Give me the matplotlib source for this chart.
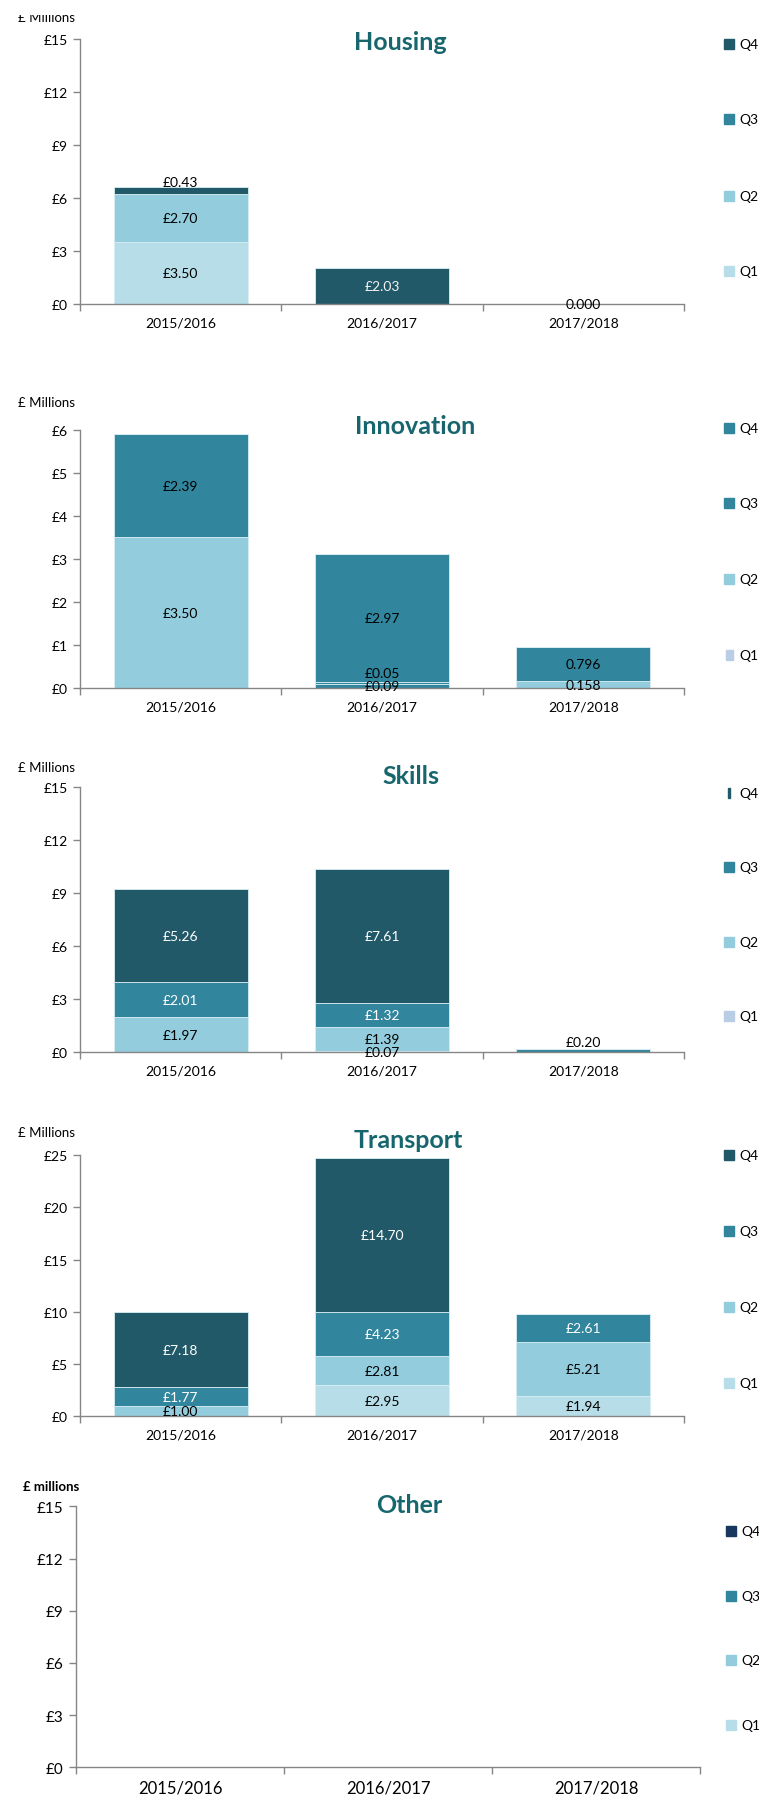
import matplotlib
matplotlib.use("Agg")
import matplotlib.pyplot as plt
from matplotlib.patches import Rectangle
from matplotlib.transforms import Bbox

# ---------------------------------------------------------------- data
years = ["2015/2016", "2016/2017", "2017/2018"]
quarters = ["Q1", "Q2", "Q3", "Q4"]

housing_q1 = [3.50, 0.0, 0.0]
housing_q2 = [2.70, 0.0, 0.0]
housing_q3 = [0.0, 0.0, 0.0]
housing_q4 = [0.43, 2.03, 0.0]

innovation_q1 = [0.0, 0.09, 0.0]
innovation_q2 = [3.50, 0.05, 0.158]
innovation_q3 = [2.39, 2.97, 0.796]
innovation_q4 = [0.0, 0.0, 0.0]

skills_q1 = [0.0, 0.07, 0.0]
skills_q2 = [1.97, 1.39, 0.0]
skills_q3 = [2.01, 1.32, 0.20]
skills_q4 = [5.26, 7.61, 0.0]

transport_q1 = [0.0, 2.95, 1.94]
transport_q2 = [1.00, 2.81, 5.21]
transport_q3 = [1.77, 4.23, 2.61]
transport_q4 = [7.18, 14.70, 0.0]

other_q1 = [0.0, 0.0, 0.0]
other_q2 = [0.0, 0.0, 0.0]
other_q3 = [0.0, 0.0, 0.0]
other_q4 = [0.0, 0.0, 0.0]

# ---------------------------------------------------------------- style
W, H = 759, 1799
FONT = "Lato"
plt.rcParams["font.family"] = [FONT, "DejaVu Sans"]

DARK = "#215968"
TEAL = "#31859c"
LIGHT = "#93cddd"
PALE = "#b7dee8"
LAV = "#b9cde5"
NAVY = "#17375e"
AXIS_GREY = "#868686"
TITLE_COL = "#17666e"


def fx(px):
    return px / W


def fy(py):
    return 1 - py / H


panels = [
    dict(title="Housing", series=[housing_q1, housing_q2, housing_q3, housing_q4],
         colors=[PALE, LIGHT, TEAL, DARK], legend_colors=[PALE, LIGHT, TEAL, DARK],
         label_colors=["black", "black", "white", "#f2f2f2"],
         fmts=["£{:.2f}", "£{:.2f}", "{:.3f}"], zero_label=[False, False, True],
         nudges={(3, 0): 9}, seg_colors={},
         box=(80, 684, 40, 305), ymax=15, step=3,
         title_xy=(400, 42), unit=("£ Millions", 18, 18, "normal"), unit_clip=16,
         legend_y=[272, 197, 120, 45], legend_x=724, legend_w=[10, 10, 10, 10],
         xfs=10, yfs=10),
    dict(title="Innovation", series=[innovation_q1, innovation_q2, innovation_q3, innovation_q4],
         colors=[TEAL, LIGHT, TEAL, TEAL], legend_colors=[LAV, LIGHT, TEAL, TEAL],
         label_colors=["black", "black", "black", "black"],
         fmts=["£{:.2f}", "£{:.2f}", "{:.3f}"], zero_label=[False, False, False],
         nudges={(1, 1): 10}, seg_colors={(1, 1): TEAL},
         box=(80, 684, 430.7, 689.3), ymax=6, step=1,
         title_xy=(415, 427), unit=("£ Millions", 18, 403, "normal"), unit_clip=None,
         legend_y=[656, 580, 504, 429], legend_x=724, legend_w=[7, 10, 10, 10],
         xfs=10, yfs=10),
    dict(title="Skills", series=[skills_q1, skills_q2, skills_q3, skills_q4],
         colors=[LAV, LIGHT, TEAL, DARK], legend_colors=[LAV, LIGHT, TEAL, DARK],
         label_colors=["black", "black", "white", "white"],
         fmts=["£{:.2f}", "£{:.2f}", "£{:.2f}"], zero_label=[False, False, False],
         nudges={(2, 2): 9}, seg_colors={},
         box=(80, 684, 788.3, 1053.3), ymax=15, step=3,
         title_xy=(411, 777), unit=("£ Millions", 18, 768, "normal"), unit_clip=None,
         legend_y=[1017, 943, 868, 794], legend_x=724, legend_w=[10, 10, 10, 2],
         xfs=10, yfs=10),
    dict(title="Transport", series=[transport_q1, transport_q2, transport_q3, transport_q4],
         colors=[PALE, LIGHT, TEAL, DARK], legend_colors=[PALE, LIGHT, TEAL, DARK],
         label_colors=["black", "black", "white", "white"],
         fmts=["£{:.2f}", "£{:.2f}", "£{:.2f}"], zero_label=[False, False, False],
         nudges={}, seg_colors={},
         box=(80, 684, 1156, 1417.3), ymax=25, step=5,
         title_xy=(408, 1141), unit=("£ Millions", 18, 1133, "normal"), unit_clip=None,
         legend_y=[1384, 1308, 1232, 1156], legend_x=724, legend_w=[10, 10, 10, 10],
         xfs=10, yfs=10),
    dict(title="Other", series=[other_q1, other_q2, other_q3, other_q4],
         colors=[PALE, LIGHT, TEAL, NAVY], legend_colors=[PALE, LIGHT, TEAL, NAVY],
         label_colors=["black", "black", "white", "white"],
         fmts=["£{:.2f}", "£{:.2f}", "£{:.2f}"], zero_label=[False, False, False],
         nudges={}, seg_colors={},
         box=(76, 700, 1507.3, 1768.3), ymax=15, step=3,
         title_xy=(409, 1506), unit=("£ millions", 23, 1487, "bold"), unit_clip=None,
         legend_y=[1726, 1661, 1597, 1532], legend_x=726, legend_w=[10, 10, 10, 10],
         xfs=12, yfs=11),
]

fig = plt.figure(figsize=(W / 100, H / 100), dpi=100)
fig.patch.set_facecolor("white")

x = list(range(len(years)))
bar_w = 0.667

for p in panels:
    left, right, top, bottom = p["box"]
    ax = fig.add_axes([fx(left), fy(bottom), (right - left) / W, (bottom - top) / H])

    base = [0.0] * len(years)
    for si, vals in enumerate(p["series"]):
        cols = [p["seg_colors"].get((si, bi), p["colors"][si]) for bi in range(len(years))]
        ax.bar(x, vals, bar_w, bottom=base, color=cols, edgecolor="#d8eef3",
               linewidth=0.6, zorder=2)
        for bi, v in enumerate(vals):
            if v > 0:
                yc = base[bi] + v / 2
                nudge = p["nudges"].get((si, bi), 0)
                col = "black" if nudge else p["label_colors"][si]
                ax.annotate(p["fmts"][bi].format(v), (bi, yc), xytext=(0, nudge * 0.72),
                            textcoords="offset points", ha="center", va="center",
                            fontsize=10, color=col, zorder=4)
        base = [b + v for b, v in zip(base, vals)]

    for bi, total in enumerate(base):
        if total == 0 and p["zero_label"][bi]:
            ax.annotate(p["fmts"][bi].format(0.0), (bi, 0), ha="center", va="center",
                        fontsize=10, color="black", zorder=4)

    ax.set_xlim(-0.5, len(years) - 0.5)
    ax.set_ylim(0, p["ymax"])
    yt = list(range(0, p["ymax"] + 1, p["step"]))
    ax.set_yticks(yt)
    ax.set_yticklabels([f"£{t}" for t in yt], fontsize=p["yfs"])
    ax.set_xticks(x)
    ax.set_xticklabels(years, fontsize=p["xfs"])
    ax.set_xticks([i - 0.5 for i in range(len(years) + 1)], minor=True)
    ax.tick_params(axis="x", which="major", length=0, pad=9)
    ax.tick_params(axis="x", which="minor", length=5, color=AXIS_GREY, width=1)
    ax.tick_params(axis="y", length=5, color=AXIS_GREY, width=1, pad=4)
    for side in ("top", "right"):
        ax.spines[side].set_visible(False)
    for side in ("left", "bottom"):
        ax.spines[side].set_color(AXIS_GREY)
        ax.spines[side].set_linewidth(1)
    ax.spines["bottom"].set_zorder(3)

    tx, ty = p["title_xy"]
    fig.text(fx(tx), fy(ty), p["title"], ha="center", va="center", fontsize=18,
             fontweight="bold", color=TITLE_COL)
    utext, ux, uy, uw = p["unit"]
    ut = fig.text(fx(ux), fy(uy), utext, ha="left", va="center", fontsize=9.5,
                  fontweight=uw, color="black")
    if p["unit_clip"] is not None:
        # the unit caption sits against the top edge and is cut by it
        clip = Bbox.from_extents(0, 0, W, H - p["unit_clip"])
        ut.set_clip_box(clip)
        ut.set_clip_on(True)

    # legend: one square per quarter, Q4 at the top
    for qi, q in enumerate(quarters):
        ly = p["legend_y"][qi]
        lw = p["legend_w"][qi]
        lx = p["legend_x"] + (10 - lw) / 2 if lw < 10 else p["legend_x"]
        fig.patches.append(Rectangle((fx(lx), fy(ly + 5)), lw / W, 10 / H,
                                     transform=fig.transFigure,
                                     color=p["legend_colors"][qi], zorder=5))
        fig.text(fx(p["legend_x"] + 15), fy(ly), q, ha="left", va="center",
                 fontsize=10, color="black")

fig.savefig("out.png", dpi=100, facecolor="white")
